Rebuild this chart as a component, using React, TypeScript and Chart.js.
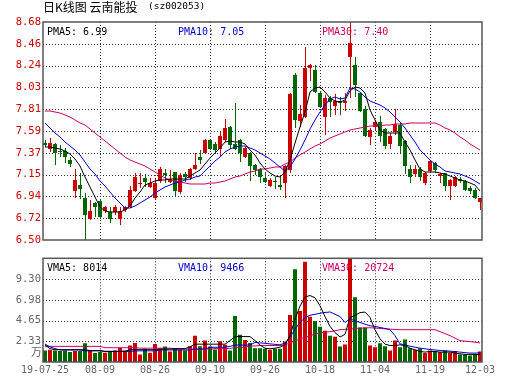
import React, { useEffect, useRef } from "react";
import { Chart, registerables } from "chart.js";

Chart.register(...registerables);

// ---------------- DATA ----------------
const tradingDates = [
  "2019-07-25","2019-07-26","2019-07-29","2019-07-30","2019-07-31",
  "2019-08-01","2019-08-02","2019-08-05","2019-08-06","2019-08-07","2019-08-08","2019-08-09",
  "2019-08-12","2019-08-13","2019-08-14","2019-08-15","2019-08-16","2019-08-19","2019-08-20",
  "2019-08-21","2019-08-22","2019-08-23","2019-08-26","2019-08-27","2019-08-28","2019-08-29","2019-08-30",
  "2019-09-02","2019-09-03","2019-09-04","2019-09-05","2019-09-06","2019-09-09","2019-09-10",
  "2019-09-11","2019-09-12","2019-09-16","2019-09-17","2019-09-18","2019-09-19","2019-09-20",
  "2019-09-23","2019-09-24","2019-09-25","2019-09-26","2019-09-27","2019-09-30",
  "2019-10-08","2019-10-09","2019-10-10","2019-10-11","2019-10-14","2019-10-15","2019-10-16",
  "2019-10-17","2019-10-18","2019-10-21","2019-10-22","2019-10-23","2019-10-24","2019-10-25",
  "2019-10-28","2019-10-29","2019-10-30","2019-10-31",
  "2019-11-01","2019-11-04","2019-11-05","2019-11-06","2019-11-07","2019-11-08","2019-11-11",
  "2019-11-12","2019-11-13","2019-11-14","2019-11-15","2019-11-18","2019-11-19","2019-11-20",
  "2019-11-21","2019-11-22","2019-11-25","2019-11-26","2019-11-27","2019-11-28","2019-11-29",
  "2019-12-02","2019-12-03",
];

const openP = [
  7.47,7.41,7.46,7.39,7.39,7.30,6.99,7.05,6.92,6.71,
  6.87,6.89,6.79,6.78,6.78,6.71,6.80,6.83,6.99,7.06,
  7.12,7.03,6.92,7.09,7.17,7.08,7.18,6.98,7.16,7.12,
  7.21,7.33,7.37,7.50,7.46,7.41,7.50,7.63,7.46,7.50,
  7.33,7.37,7.25,7.21,7.12,7.04,7.09,7.05,7.07,7.20,
  8.15,7.69,7.73,8.22,8.20,7.97,7.73,7.92,7.84,7.89,
  7.87,8.33,8.25,7.97,7.81,7.53,7.63,7.68,7.61,7.46,
  7.58,7.65,7.49,7.21,7.16,7.21,7.07,7.19,7.27,7.14,
  7.17,7.04,7.04,7.11,7.09,7.02,7.00,6.88,
];
const highP = [
  7.50,7.52,7.47,7.45,7.42,7.33,7.21,7.17,6.97,6.90,
  6.88,6.90,6.84,6.83,6.85,6.83,6.84,7.04,7.17,7.17,
  7.16,7.12,7.11,7.23,7.21,7.20,7.18,7.17,7.18,7.22,
  7.37,7.40,7.51,7.51,7.48,7.58,7.71,7.64,7.87,7.51,
  7.43,7.38,7.26,7.22,7.17,7.12,7.13,7.13,7.25,7.97,
  8.17,7.85,8.43,8.26,8.25,7.98,7.95,7.94,7.96,7.93,
  7.97,8.68,8.33,7.98,7.84,7.62,7.70,7.74,7.62,7.57,
  7.81,7.67,7.50,7.25,7.25,7.23,7.18,7.30,7.28,7.17,
  7.17,7.11,7.14,7.13,7.10,7.04,7.02,6.92,
];
const lowP = [
  7.43,7.38,7.25,7.33,7.27,7.23,6.92,6.91,6.50,6.70,
  6.73,6.72,6.77,6.67,6.75,6.65,6.78,6.82,6.98,7.02,
  7.03,7.02,6.90,7.07,7.07,7.07,6.94,6.96,7.08,7.10,
  7.20,7.26,7.37,7.40,7.36,7.33,7.48,7.41,7.40,7.28,
  7.32,7.09,7.15,7.07,7.07,7.03,7.01,7.00,6.92,7.17,
  7.62,7.63,7.72,8.09,7.97,7.82,7.55,7.73,7.75,7.75,
  7.79,7.92,7.93,7.78,7.53,7.45,7.60,7.48,7.41,7.41,
  7.55,7.37,7.16,7.07,7.13,7.09,7.05,7.17,7.17,7.07,
  6.99,6.90,7.03,7.07,6.99,6.96,6.91,6.80,
];
const closeP = [
  7.45,7.47,7.37,7.38,7.33,7.26,7.10,7.01,6.75,6.79,
  6.83,6.73,6.83,6.71,6.83,6.79,6.83,7.00,7.13,7.07,
  7.08,7.07,7.07,7.21,7.15,7.11,6.99,7.15,7.13,7.21,
  7.25,7.30,7.50,7.41,7.40,7.54,7.62,7.45,7.41,7.37,
  7.42,7.24,7.20,7.13,7.08,7.10,7.08,7.03,7.24,7.96,
  7.70,7.76,8.22,8.25,7.98,7.83,7.92,7.88,7.89,7.87,
  7.89,8.47,8.05,7.79,7.54,7.60,7.68,7.54,7.44,7.54,
  7.66,7.44,7.24,7.13,7.21,7.13,7.17,7.29,7.20,7.16,
  7.04,7.10,7.13,7.09,7.00,6.99,6.92,6.92,
];

const pma5 = [
  7.43,7.43,7.42,7.41,7.39,7.36,7.31,7.24,7.13,7.03,
  6.93,6.83,6.79,6.78,6.78,6.78,6.80,6.84,6.92,6.98,
  7.05,7.07,7.09,7.10,7.10,7.11,7.11,7.11,7.11,7.14,
  7.17,7.20,7.26,7.32,7.37,7.42,7.48,7.49,7.48,7.48,
  7.46,7.40,7.35,7.27,7.21,7.17,7.14,7.13,7.18,7.30,
  7.47,7.63,7.78,7.98,8.02,8.03,7.98,7.92,7.89,7.88,
  7.90,7.99,8.03,8.02,7.97,7.80,7.70,7.60,7.57,7.57,
  7.57,7.57,7.48,7.40,7.30,7.21,7.18,7.18,7.18,7.17,
  7.16,7.14,7.12,7.10,7.09,7.07,7.05,6.99,
];
const pma10 = [
  7.67,7.62,7.57,7.53,7.48,7.44,7.40,7.35,7.28,7.21,
  7.16,7.09,7.04,6.98,6.92,6.87,6.82,6.82,6.84,6.87,
  6.90,6.93,6.97,7.00,7.03,7.05,7.07,7.08,7.10,7.11,
  7.13,7.14,7.19,7.24,7.29,7.33,7.38,7.41,7.43,7.44,
  7.44,7.42,7.40,7.37,7.34,7.31,7.27,7.23,7.19,7.23,
  7.31,7.40,7.50,7.61,7.70,7.78,7.85,7.91,7.93,7.91,
  7.92,8.02,8.01,7.98,7.93,7.89,7.87,7.85,7.82,7.78,
  7.73,7.68,7.62,7.55,7.48,7.40,7.35,7.30,7.26,7.23,
  7.19,7.18,7.17,7.16,7.14,7.12,7.09,7.06,
];
const pma30 = [
  7.79,7.79,7.78,7.77,7.75,7.73,7.70,7.67,7.65,7.61,
  7.57,7.53,7.49,7.45,7.41,7.37,7.33,7.30,7.28,7.26,
  7.24,7.21,7.18,7.15,7.12,7.10,7.09,7.08,7.07,7.06,
  7.06,7.06,7.06,7.07,7.07,7.08,7.09,7.11,7.13,7.14,
  7.16,7.18,7.19,7.21,7.21,7.22,7.23,7.23,7.26,7.28,
  7.32,7.35,7.38,7.41,7.44,7.46,7.49,7.52,7.54,7.56,
  7.58,7.60,7.61,7.62,7.63,7.64,7.64,7.64,7.65,7.65,
  7.66,7.66,7.66,7.67,7.67,7.67,7.67,7.67,7.67,7.65,
  7.62,7.60,7.57,7.53,7.50,7.46,7.43,7.40,
];

// volume in 万
const volume = [
  1.29,1.37,1.29,1.22,1.29,1.11,1.22,1.22,2.10,1.29,
  1.00,1.11,1.03,1.18,1.29,1.59,1.29,1.85,2.14,0.85,
  1.48,1.03,2.03,1.48,1.73,1.18,1.48,1.37,1.29,1.77,
  2.95,1.77,2.40,1.73,1.40,2.32,1.92,1.29,5.17,3.06,
  2.47,2.14,1.55,1.55,1.48,1.37,1.48,1.48,2.29,5.28,
  10.40,5.72,11.25,5.06,4.61,3.95,3.51,2.95,2.84,1.73,
  1.96,12.00,7.27,3.87,3.87,1.85,1.66,2.10,1.77,1.29,
  2.40,1.66,2.51,1.55,1.37,1.55,1.00,1.29,1.22,1.11,
  1.29,1.03,1.22,0.85,0.85,0.74,0.89,1.18,
];
const vma5 = [
  1.90,1.50,1.38,1.38,1.38,1.38,1.38,1.38,1.38,1.28,
  1.28,1.28,1.20,1.20,1.20,1.20,1.20,1.38,1.38,1.38,
  1.38,1.38,1.38,1.45,1.45,1.45,1.50,1.50,1.50,1.70,
  2.00,2.00,2.00,2.00,2.00,2.00,2.00,2.40,2.85,2.85,
  2.85,2.85,2.40,1.90,1.55,1.48,1.55,1.66,1.92,2.95,
  4.80,6.27,7.30,7.45,7.20,6.30,5.10,4.00,3.30,2.80,
  3.10,4.98,5.24,5.54,5.60,5.00,3.60,2.60,2.00,1.85,
  1.85,1.92,1.85,1.55,1.37,1.18,1.11,1.18,1.18,1.11,
  1.11,1.11,1.00,0.92,0.85,0.85,0.85,0.85,
];
const vma10 = [
  2.00,1.70,1.50,1.35,1.35,1.35,1.35,1.35,1.25,1.25,
  1.25,1.25,1.18,1.18,1.18,1.18,1.18,1.18,1.25,1.25,
  1.25,1.25,1.25,1.35,1.35,1.35,1.35,1.35,1.35,1.35,
  1.45,1.45,1.45,1.65,1.65,1.65,1.65,1.75,1.90,1.90,
  1.90,1.90,2.20,2.14,2.10,2.03,1.98,1.92,2.14,2.77,
  3.69,4.43,4.98,5.24,5.35,5.46,5.55,5.61,5.35,5.10,
  4.43,4.85,4.61,4.43,4.24,4.06,3.99,3.87,3.76,3.62,
  2.95,2.03,1.92,1.77,1.66,1.55,1.48,1.40,1.35,1.29,
  1.25,1.22,1.16,1.11,1.05,1.00,1.00,1.03,
];
const vma30 = [
  1.75,1.75,1.75,1.75,1.75,1.75,1.75,1.75,1.75,1.75,
  1.75,1.75,1.60,1.60,1.60,1.60,1.60,1.60,1.60,1.55,
  1.55,1.55,1.55,1.55,1.55,1.55,1.45,1.45,1.45,1.45,
  1.45,1.45,1.45,1.45,1.50,1.50,1.50,1.50,1.65,1.65,
  1.65,1.80,1.80,1.85,1.85,1.85,1.85,1.85,1.92,2.14,
  2.35,2.58,2.78,2.95,3.10,3.25,3.33,3.40,3.50,3.62,
  3.66,3.69,3.75,3.80,3.82,3.84,3.80,3.76,3.72,3.69,
  3.65,3.62,3.62,3.62,3.62,3.62,3.62,3.62,3.62,3.40,
  3.18,2.95,2.68,2.40,2.33,2.29,2.22,2.14,
];

const priceTickLabels = ["6.50","6.72","6.94","7.15","7.37","7.59","7.81","8.03","8.24","8.46","8.68"];
const volTickLabels = ["2.33","4.65","6.98","9.30"];
const volUnit = "万";
const dateTickIdx = [0, 11, 22, 33, 44, 55, 66, 77, 87];
const gridIdx = [11, 22, 33, 44, 55, 66, 77];
const titleMain = "日K线图 云南能投";
const titleCode = "(sz002053)";
const priceLegendTexts = ["PMA5: 6.99", "PMA10: 7.05", "PMA30: 7.40"];
const volLegendTexts = ["VMA5: 8014", "VMA10: 9466", "VMA30: 20724"];

const PRICE_MIN = 6.5;
const PRICE_MAX = 8.68;
const VOL_MAX = 11.625;

// ---------------- STYLE / LAYOUT ----------------
const RED = "#cc0000";
const GREEN = "#006600";
const MA_COLORS = ["#000000", "#0000cc", "#cc0066"];
const LEGEND_X = [47, 178, 322];
const MONO = '"DejaVu Sans Mono"';
const CJK = '"Noto Sans CJK SC"';

const candleColors = closeP.map((c, i) => (c >= openP[i] ? RED : GREEN));
const idx = tradingDates.map((_, i) => i);

function fmtDate(i: number) {
  const d = tradingDates[i];
  return i === 0 ? d.slice(2) : d.slice(5);
}

function panelPlugin(legendTexts: string[], legendY: number, extra?: (c: any) => void) {
  return {
    id: "panel",
    beforeDatasetsDraw(chart: any) {
      const { ctx, chartArea: a } = chart;
      const xs = chart.scales.x;
      const ys = chart.scales.y;
      ctx.save();
      ctx.strokeStyle = "#333";
      ctx.lineWidth = 1;
      ctx.setLineDash([1, 2]);
      ctx.beginPath();
      ys.ticks.forEach((t: any) => {
        const py = Math.round(ys.getPixelForValue(t.value)) + 0.5;
        if (py < a.top + 2 || py > a.bottom - 2) return;
        ctx.moveTo(a.left, py);
        ctx.lineTo(a.right, py);
      });
      gridIdx.forEach((i) => {
        const px = Math.round(xs.getPixelForValue(i)) + 0.5;
        ctx.moveTo(px, a.top);
        ctx.lineTo(px, a.bottom);
      });
      ctx.stroke();
      ctx.setLineDash([]);
      ctx.font = `10px ${MONO}`;
      ctx.textAlign = "left";
      ctx.textBaseline = "middle";
      legendTexts.forEach((t, k) => {
        ctx.fillStyle = MA_COLORS[k];
        ctx.fillText(t, LEGEND_X[k], legendY);
      });
      ctx.restore();
    },
    afterDatasetsDraw(chart: any) {
      const { ctx, chartArea: a } = chart;
      ctx.save();
      ctx.strokeStyle = "#555";
      ctx.lineWidth = 1.5;
      ctx.strokeRect(a.left, a.top, a.right - a.left, a.bottom - a.top);
      ctx.restore();
      if (extra) extra(chart);
    },
  };
}

function maLine(label: string, values: number[], color: string) {
  return {
    type: "line" as const,
    label,
    data: idx.map((i) => ({ x: i, y: values[i] })),
    borderColor: color,
    borderWidth: 1,
    pointRadius: 0,
    tension: 0,
    fill: false,
    order: 0,
    xAxisID: "x",
    yAxisID: "y",
  };
}

export default function App() {
  const priceRef = useRef<HTMLCanvasElement>(null);
  const volRef = useRef<HTMLCanvasElement>(null);

  useEffect(() => {
    Chart.defaults.font.family = "DejaVu Sans Mono";

    const pc = new Chart(priceRef.current as HTMLCanvasElement, {
      type: "bar",
      data: {
        datasets: [
          maLine("PMA5", pma5, MA_COLORS[0]),
          maLine("PMA10", pma10, MA_COLORS[1]),
          maLine("PMA30", pma30, MA_COLORS[2]),
          {
            type: "bar",
            label: "body",
            data: idx.map((i) => ({ x: i, y: [openP[i], closeP[i]] })),
            backgroundColor: candleColors,
            barThickness: 4,
            minBarLength: 1,
            grouped: false,
            inflateAmount: 0,
            borderWidth: 0,
            order: 1,
            xAxisID: "x",
            yAxisID: "y",
          },
          {
            type: "bar",
            label: "wick",
            data: idx.map((i) => ({ x: i, y: [lowP[i], highP[i]] })),
            backgroundColor: candleColors,
            barThickness: 1,
            grouped: false,
            inflateAmount: 0,
            borderWidth: 0,
            order: 2,
            xAxisID: "xw",
            yAxisID: "y",
          },
        ] as any,
      },
      options: {
        responsive: false,
        animation: false,
        devicePixelRatio: 1,
        events: [],
        layout: { padding: { left: 0, right: 48, top: 22, bottom: 10 } },
        plugins: { legend: { display: false }, tooltip: { enabled: false }, title: { display: false } },
        scales: {
          x: { type: "linear", min: -0.4, max: 87.4, offset: false, display: false },
          xw: { type: "linear", min: -0.5, max: 87.3, offset: false, display: false },
          y: {
            type: "linear",
            position: "left",
            min: PRICE_MIN,
            max: PRICE_MAX,
            beginAtZero: false,
            grid: { display: false, drawTicks: false },
            border: { display: false },
            afterBuildTicks: (s: any) => {
              s.ticks = priceTickLabels.map((_, k) => ({
                value: PRICE_MIN + (k * (PRICE_MAX - PRICE_MIN)) / (priceTickLabels.length - 1),
              }));
            },
            afterFit: (s: any) => {
              s.width = 43;
            },
            ticks: {
              callback: (_v: any, k: number) => priceTickLabels[k],
              color: RED,
              font: { family: "DejaVu Sans Mono", size: 10.5 },
              padding: 2,
            },
          },
        } as any,
      },
      plugins: [
        panelPlugin(priceLegendTexts, 32, (chart: any) => {
          const ctx = chart.ctx;
          ctx.save();
          ctx.fillStyle = "#000";
          ctx.textAlign = "left";
          ctx.textBaseline = "middle";
          ctx.font = `12px ${CJK}`;
          ctx.fillText(titleMain, 43, 7);
          ctx.font = `9.5px ${MONO}`;
          ctx.fillText(titleCode, 148, 7);
          ctx.restore();
        }),
      ],
    } as any);

    const vc = new Chart(volRef.current as HTMLCanvasElement, {
      type: "bar",
      data: {
        datasets: [
          maLine("VMA5", vma5, MA_COLORS[0]),
          maLine("VMA10", vma10, MA_COLORS[1]),
          maLine("VMA30", vma30, MA_COLORS[2]),
          {
            type: "bar",
            label: "volume",
            data: idx.map((i) => ({ x: i, y: volume[i] })),
            backgroundColor: candleColors,
            barThickness: 4,
            grouped: false,
            inflateAmount: 0,
            borderWidth: 0,
            order: 1,
            xAxisID: "x",
            yAxisID: "y",
          },
        ] as any,
      },
      options: {
        responsive: false,
        animation: false,
        devicePixelRatio: 1,
        events: [],
        layout: { padding: { left: 0, right: 48, top: 7, bottom: 0 } },
        plugins: { legend: { display: false }, tooltip: { enabled: false }, title: { display: false } },
        scales: {
          x: {
            type: "linear",
            min: -0.4,
            max: 87.4,
            offset: false,
            grid: { display: false, drawTicks: false },
            border: { display: false },
            afterBuildTicks: (s: any) => {
              s.ticks = dateTickIdx.map((v) => ({ value: v }));
            },
            afterFit: (s: any) => {
              s.height = 29;
            },
            ticks: {
              autoSkip: false,
              maxRotation: 0,
              minRotation: 0,
              padding: 2,
              color: "#666",
              font: { family: "DejaVu Sans Mono", size: 10 },
              callback: (v: any) => fmtDate(Number(v)),
            },
          },
          y: {
            type: "linear",
            position: "left",
            min: 0,
            max: VOL_MAX,
            grid: { display: false, drawTicks: false },
            border: { display: false },
            afterBuildTicks: (s: any) => {
              s.ticks = volTickLabels.map((_, k) => ({ value: ((k + 1) * VOL_MAX) / 5 }));
            },
            afterFit: (s: any) => {
              s.width = 43;
            },
            ticks: {
              callback: (_v: any, k: number) => volTickLabels[k],
              color: "#666",
              font: { family: "DejaVu Sans Mono", size: 10.5 },
              padding: 2,
            },
          },
        } as any,
      },
      plugins: [
        panelPlugin(volLegendTexts, 18, (chart: any) => {
          const ctx = chart.ctx;
          const ys = chart.scales.y;
          ctx.save();
          ctx.fillStyle = "#666";
          ctx.textAlign = "right";
          ctx.textBaseline = "middle";
          ctx.font = `11px ${CJK}`;
          ctx.fillText(volUnit, 42, ys.getPixelForValue(0) - 10);
          ctx.restore();
        }),
      ],
    } as any);

    return () => {
      pc.destroy();
      vc.destroy();
    };
  }, []);

  return (
    <div style={{ position: "absolute", left: 0, top: 0, width: 530, height: 391, background: "#fff" }}>
      <canvas ref={priceRef} width={530} height={250} style={{ position: "absolute", left: 0, top: 0 }} />
      <canvas ref={volRef} width={530} height={141} style={{ position: "absolute", left: 0, top: 250 }} />
    </div>
  );
}
